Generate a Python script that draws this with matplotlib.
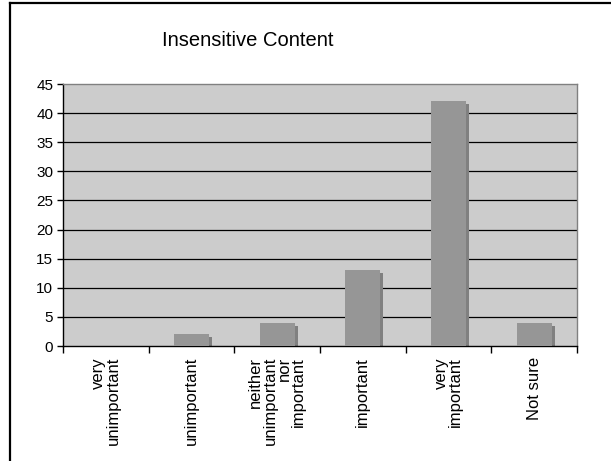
import numpy as np
import matplotlib
matplotlib.use("Agg")
import matplotlib.pyplot as plt
import matplotlib.transforms as mtransforms
from matplotlib.lines import Line2D

plt.rcParams['font.family'] = ['Liberation Sans', 'DejaVu Sans']

# survey answers
categories = ["very\nunimportant", "unimportant", "neither\nunimportant\nnor\nimportant",
              "important", "very\nimportant", "Not sure"]
counts = [0, 2, 4, 13, 42, 4]
title = "Insensitive Content"

fig = plt.figure(figsize=(6.11, 4.61), dpi=100)
ax = fig.add_axes([63/611, 1-346/461, (577-63)/611, (346-84)/461])
ax.set_facecolor('#cccccc')

x = np.arange(len(categories))
w = 0.41

# shadow behind each bar, shifted right/down a few pixels
shadow_tr = mtransforms.offset_copy(ax.transData, fig=fig, x=3, y=-3, units='dots')
ax.bar(x, counts, width=w, color='#808080', transform=shadow_tr, zorder=2)
ax.bar(x, counts, width=w, color='#969696', zorder=3)

ax.set_xlim(-0.5, len(categories) - 0.5)
ax.set_ylim(0, 45)
ax.set_yticks(range(0, 46, 5))
for v in range(5, 45, 5):
    ax.axhline(v, color='black', lw=0.9, zorder=1)

ax.set_xticks(x)
ax.set_xticklabels(categories, rotation=90, multialignment='right',
                   va='top', ha='center', fontsize=12, linespacing=0.95)
ax.set_xticks(np.arange(-0.5, len(categories)), minor=True)
ax.tick_params(axis='x', which='major', length=0, pad=8)
ax.tick_params(axis='x', which='minor', length=5, width=1, color='black', direction='out')
ax.tick_params(axis='y', length=4, width=1, labelsize=11, pad=3, direction='out')

for side in ['top', 'right']:
    ax.spines[side].set_color('#808080')
    ax.spines[side].set_linewidth(1)
for side in ['left', 'bottom']:
    ax.spines[side].set_color('black')
    ax.spines[side].set_linewidth(1)

fig.text(248/611, 1-41/461, title, ha='center', va='center', fontsize=14.5)

# chart frame (left and top edges)
fig.add_artist(Line2D([10/611, 10/611], [0, 1-3/461], transform=fig.transFigure,
                      color='black', lw=1.6))
fig.add_artist(Line2D([10/611, 1], [1-3/461, 1-3/461], transform=fig.transFigure,
                      color='black', lw=1.6))

fig.savefig("out.png", dpi=100)
